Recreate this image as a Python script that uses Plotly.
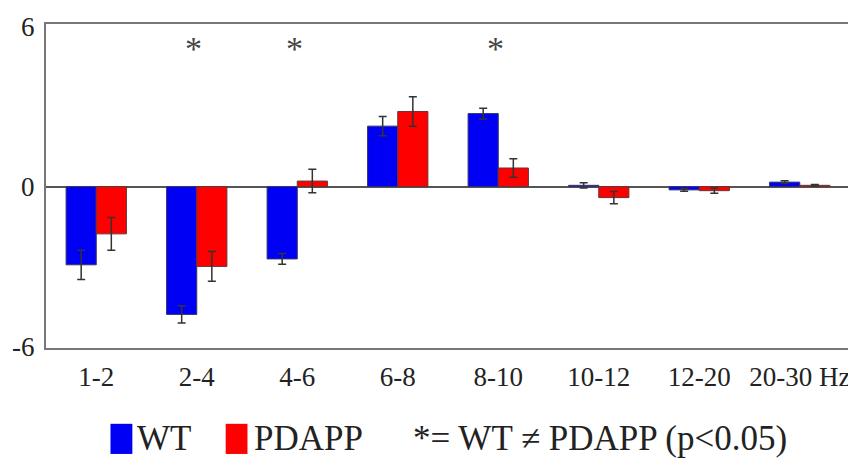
import plotly.graph_objects as go

categories = ["1-2", "2-4", "4-6", "6-8", "8-10", "10-12", "12-20", "20-30 Hz"]
wt_values = [-2.93, -4.79, -2.71, 2.27, 2.74, 0.05, -0.12, 0.17]
wt_errors = [0.55, 0.32, 0.20, 0.36, 0.20, 0.10, 0.05, 0.05]
pdapp_values = [-1.77, -2.99, 0.21, 2.82, 0.70, -0.41, -0.15, 0.05]
pdapp_errors = [0.61, 0.56, 0.44, 0.55, 0.35, 0.23, 0.10, 0.03]
significant = ["2-4", "4-6", "8-10"]
y_ticks = [-6, 0, 6]
y_tick_labels = ["-6", "0", "6"]

BLUE = "#0000F5"
RED = "#FF0000"
FONT = "Liberation Serif, Times New Roman, serif"

fig = go.Figure()
fig.add_trace(go.Bar(
    x=categories, y=wt_values, name="WT",
    marker=dict(color=BLUE, line=dict(color="#333366", width=1)),
    error_y=dict(type="data", array=wt_errors, color="#333333", thickness=1.5, width=4),
))
fig.add_trace(go.Bar(
    x=categories, y=pdapp_values, name="PDAPP",
    marker=dict(color=RED, line=dict(color="#663333", width=1)),
    error_y=dict(type="data", array=pdapp_errors, color="#333333", thickness=1.5, width=4),
))

for cat in significant:
    fig.add_annotation(x=cat, y=5.2, text="*", showarrow=False,
                       font=dict(family=FONT, size=34, color="#444444"),
                       xanchor="center", yanchor="middle", xshift=-3)

# legend swatches and labels
fig.add_shape(type="rect", xref="paper", yref="paper", x0=0.0802, x1=0.1074,
              y0=-0.327, y1=-0.234, fillcolor=BLUE, line=dict(width=0))
fig.add_shape(type="rect", xref="paper", yref="paper", x0=0.2235, x1=0.2506,
              y0=-0.327, y1=-0.234, fillcolor=RED, line=dict(width=0))
legend_font = dict(family=FONT, size=35, color="#222222")
legend_y = -0.278
fig.add_annotation(xref="paper", yref="paper", x=0.111, y=legend_y, text="WT",
                   showarrow=False, xanchor="left", yanchor="middle", font=legend_font)
fig.add_annotation(xref="paper", yref="paper", x=0.2568, y=legend_y, text="PDAPP",
                   showarrow=False, xanchor="left", yanchor="middle", font=legend_font)
fig.add_annotation(xref="paper", yref="paper", x=0.4543, y=legend_y,
                   text="*= WT \u2260 PDAPP (p<0.05)",
                   showarrow=False, xanchor="left", yanchor="middle", font=legend_font)

# the page body adds an 8px offset; the figure is sized so it fills the window
fig.update_layout(
    width=848, height=454,
    margin=dict(l=34, r=4, t=7, b=114),
    paper_bgcolor="white", plot_bgcolor="white",
    barmode="group", bargap=0.4, bargroupgap=0,
    showlegend=False,
    font=dict(family=FONT, size=26, color="#222222"),
    xaxis=dict(type="category", showgrid=False, showline=True, linecolor="#777777",
               linewidth=2, mirror=True, ticks="outside", ticklen=4,
               tickcolor="rgba(0,0,0,0)", ticklabeloverflow="allow",
               tickfont=dict(family=FONT, size=27, color="#222222")),
    yaxis=dict(range=[-6.05, 6.1], tickvals=y_ticks, ticktext=y_tick_labels,
               showgrid=False, showline=True,
               linecolor="#777777", linewidth=2, mirror=True,
               zeroline=True, zerolinecolor="#555555", zerolinewidth=2,
               ticks="outside", ticklen=4, tickcolor="rgba(0,0,0,0)",
               ticklabeloverflow="allow",
               tickfont=dict(family=FONT, size=27, color="#222222")),
)

fig.write_html("out.html")
